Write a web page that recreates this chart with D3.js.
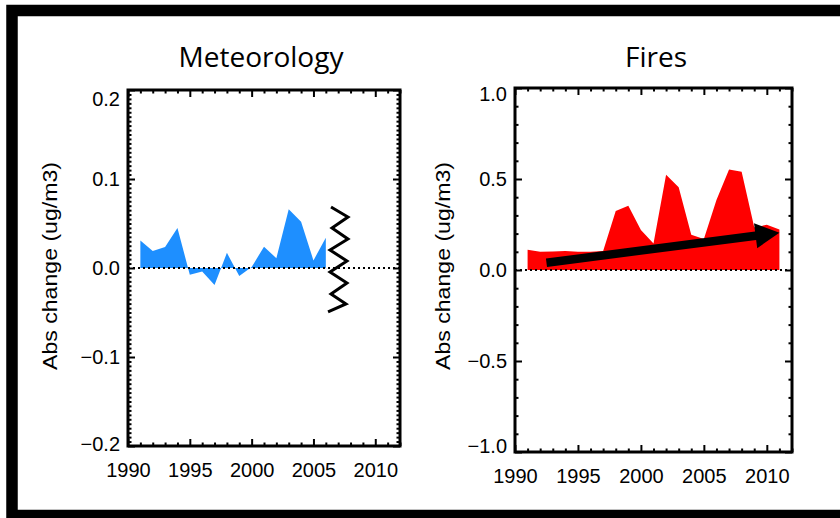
<!DOCTYPE html>
<html>
<head>
  <meta charset="utf-8">
  <title>Meteorology vs Fires</title>
  <script src="https://cdn.jsdelivr.net/npm/d3@7/dist/d3.min.js"></script>
  <style>
    body { margin: 0; background: #fff; }
    svg { display: block; }
    .tick text { font-family: "Liberation Sans", Arial, sans-serif; font-size: 20px; fill: #000; }
    .tick line { stroke: #000; stroke-width: 2; }
  </style>
</head>
<body>
  <main id="container"></main>

  <script>
    // data
    const metYears = [1991, 1992, 1993, 1994, 1995, 1996, 1997, 1998, 1999, 2000, 2001, 2002, 2003, 2004, 2005, 2006];
    const metValues = [0.031, 0.019, 0.0235, 0.045, -0.0075, -0.004, -0.019, 0.017, -0.009, 0.001, 0.024, 0.011, 0.066, 0.052, 0.0085, 0.034];

    const fireYears = [1991, 1992, 1993, 1994, 1995, 1996, 1997, 1998, 1999, 2000, 2001, 2002, 2003, 2004, 2005, 2006, 2007, 2008, 2009, 2010, 2011];
    const fireValues = [0.111, 0.100, 0.102, 0.105, 0.100, 0.100, 0.105, 0.324, 0.353, 0.220, 0.145, 0.523, 0.455, 0.193, 0.171, 0.385, 0.552, 0.540, 0.235, 0.248, 0.222];

    const yearTicks = [1990, 1995, 2000, 2005, 2010];
    const metTicks = [-0.2, -0.1, 0.0, 0.1, 0.2];
    const fireTicks = [-1.0, -0.5, 0.0, 0.5, 1.0];

    // annotations, in data units
    const zigzagYears = [2006.42, 2007.79, 2006.50, 2007.79, 2006.34, 2007.71, 2006.34, 2007.71, 2006.42, 2007.63, 2006.18];
    const zigzagValues = [0.0685, 0.0573, 0.0449, 0.0326, 0.0202, 0.0079, -0.0045, -0.0169, -0.0292, -0.0404, -0.0494];
    const arrowFrom = [1992.5, 0.04];
    const arrowTo = [2011.0, 0.205];

    const width = 840;
    const height = 518;

    const svg = d3.select("#container")
      .append("svg")
      .attr("width", width)
      .attr("height", height);

    svg.append("rect")
      .attr("width", width)
      .attr("height", height)
      .attr("fill", "#fff");

    // thick slide frame (runs off the right edge)
    svg.append("rect")
      .attr("x", 12)
      .attr("y", 10.5)
      .attr("width", 900)
      .attr("height", 505)
      .attr("fill", "none")
      .attr("stroke", "#000")
      .attr("stroke-width", 11.5);

    const panels = [
      {
        title: "Meteorology", years: metYears, values: metValues, yTicks: metTicks, yMinorStep: 0.005,
        color: "#1e8fff", box: { left: 128, top: 90, right: 400, bottom: 446 },
        titleX: 261, labelX: 50, nudge: [9, -2]
      },
      {
        title: "Fires", years: fireYears, values: fireValues, yTicks: fireTicks, yMinorStep: 0.1,
        color: "#ff0000", box: { left: 515, top: 88, right: 792, bottom: 452 },
        titleX: 656, labelX: 443, nudge: [6, -6]
      }
    ];

    panels.forEach((p, idx) => {
      const b = p.box;
      const x = d3.scaleLinear().domain([1990, 2012]).range([b.left, b.right]);
      const y = d3.scaleLinear().domain([p.yTicks[0], p.yTicks[p.yTicks.length - 1]]).range([b.bottom, b.top]);
      p.x = x;
      p.y = y;

      const data = p.years.map((yr, i) => ({ year: yr, value: p.values[i] }));

      // title
      svg.append("text")
        .attr("x", p.titleX)
        .attr("y", 67)
        .attr("text-anchor", "middle")
        .style("font-family", "'Open Sans', 'Noto Sans', sans-serif")
        .style("font-size", "28px")
        .text(p.title);

      // y label
      svg.append("text")
        .attr("transform", `translate(${p.labelX},266) rotate(-90)`)
        .attr("text-anchor", "middle")
        .attr("dy", "0.35em")
        .attr("textLength", 208)
        .attr("lengthAdjust", "spacingAndGlyphs")
        .style("font-family", "'Liberation Sans', Arial, sans-serif")
        .style("font-size", "21px")
        .text("Abs change (ug/m3)");

      // filled area
      const area = d3.area()
        .x(d => x(d.year))
        .y0(y(0))
        .y1(d => y(d.value));

      svg.append("path")
        .datum(data)
        .attr("d", area)
        .attr("fill", p.color);

      // dotted zero line
      svg.append("line")
        .attr("x1", b.left)
        .attr("x2", b.right)
        .attr("y1", y(0))
        .attr("y2", y(0))
        .attr("stroke", "#000")
        .attr("stroke-width", 2)
        .attr("stroke-dasharray", "2,3");

      // minor ticks
      const xMinor = d3.range(1990, 2013, 1).filter(v => !yearTicks.includes(v));
      const yMinor = d3.range(p.yTicks[0], p.yTicks[p.yTicks.length - 1] + 1e-9, p.yMinorStep)
        .filter(v => !p.yTicks.some(t => Math.abs(t - v) < 1e-6));

      const minor = [
        [d3.axisBottom(x).tickValues(xMinor), `translate(0,${b.bottom})`],
        [d3.axisTop(x).tickValues(xMinor), `translate(0,${b.top})`],
        [d3.axisLeft(y).tickValues(yMinor), `translate(${b.left},0)`],
        [d3.axisRight(y).tickValues(yMinor), `translate(${b.right},0)`]
      ];
      minor.forEach(([ax, tr]) => {
        svg.append("g").attr("transform", tr)
          .call(ax.tickSizeInner(-3.5).tickSizeOuter(0).tickFormat(""))
          .call(g => g.select(".domain").remove());
      });

      // major ticks
      svg.append("g").attr("transform", `translate(0,${b.bottom})`)
        .call(d3.axisBottom(x).tickValues(yearTicks).tickSizeInner(-7).tickSizeOuter(0).tickPadding(17).tickFormat(d3.format("d")))
        .call(g => g.select(".domain").remove());
      svg.append("g").attr("transform", `translate(0,${b.top})`)
        .call(d3.axisTop(x).tickValues(yearTicks).tickSizeInner(-7).tickSizeOuter(0).tickFormat(""))
        .call(g => g.select(".domain").remove());
      const yAxis = svg.append("g").attr("transform", `translate(${b.left},0)`)
        .call(d3.axisLeft(y).tickValues(p.yTicks).tickSizeInner(-7).tickSizeOuter(0).tickPadding(8).tickFormat(d3.format(".1f")))
        .call(g => g.select(".domain").remove());
      yAxis.selectAll(".tick text")
        .attr("dy", (d, i) => i === p.yTicks.length - 1 ? `${0.32 + p.nudge[0] / 20}em` : (i === 0 ? `${0.32 + p.nudge[1] / 20}em` : "0.32em"));
      svg.append("g").attr("transform", `translate(${b.right},0)`)
        .call(d3.axisRight(y).tickValues(p.yTicks).tickSizeInner(-7).tickSizeOuter(0).tickFormat(""))
        .call(g => g.select(".domain").remove());

      // plot box
      svg.append("rect")
        .attr("x", b.left)
        .attr("y", b.top)
        .attr("width", b.right - b.left)
        .attr("height", b.bottom - b.top)
        .attr("fill", "none")
        .attr("stroke", "#000")
        .attr("stroke-width", 3);
    });

    // zigzag break marker on the meteorology panel
    const met = panels[0];
    svg.append("path")
      .datum(zigzagYears.map((yr, i) => [met.x(yr), met.y(zigzagValues[i])]))
      .attr("d", d3.line())
      .attr("fill", "none")
      .attr("stroke", "#000")
      .attr("stroke-width", 3)
      .attr("stroke-linejoin", "miter");

    // trend arrow on the fires panel
    const fire = panels[1];
    const p0 = [fire.x(arrowFrom[0]), fire.y(arrowFrom[1])];
    const p1 = [fire.x(arrowTo[0]), fire.y(arrowTo[1])];
    const ang = Math.atan2(p1[1] - p0[1], p1[0] - p0[0]);
    const headLen = 24, headHalf = 12.5, shaftHalf = 4.2;
    const ux = Math.cos(ang), uy = Math.sin(ang);
    const nx = -uy, ny = ux;
    const bx = p1[0] - ux * headLen, by = p1[1] - uy * headLen;
    const arrowPts = [
      [p0[0] + nx * shaftHalf, p0[1] + ny * shaftHalf],
      [bx + nx * shaftHalf, by + ny * shaftHalf],
      [bx + nx * headHalf, by + ny * headHalf],
      p1,
      [bx - nx * headHalf, by - ny * headHalf],
      [bx - nx * shaftHalf, by - ny * shaftHalf],
      [p0[0] - nx * shaftHalf, p0[1] - ny * shaftHalf]
    ];
    svg.append("path")
      .attr("d", "M" + arrowPts.map(pt => pt.join(",")).join("L") + "Z")
      .attr("fill", "#000");
  </script>
</body>
</html>
